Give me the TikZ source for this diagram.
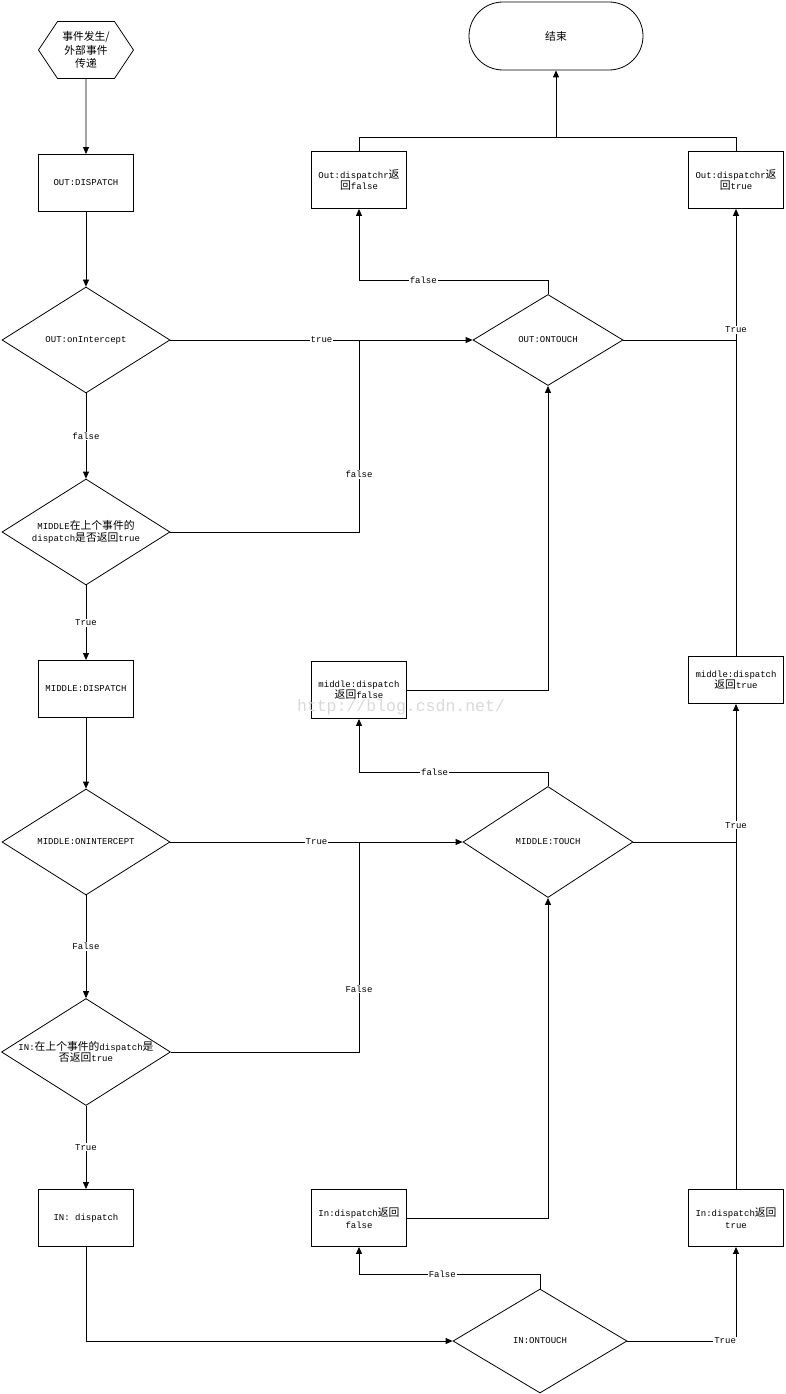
\documentclass[tikz,border=0pt]{standalone}
\usepackage{fontspec}
\setmainfont{Liberation Mono}
\newfontfamily\cjk[Scale=1.2]{Noto Sans CJK SC}
\usetikzlibrary{positioning,arrows.meta,shapes.geometric,shapes.symbols}

\begin{document}
\begin{tikzpicture}[x=1pt,y=-1pt,line width=0.8pt,
    every node/.style={font=\fontsize{9}{11.5}\selectfont, align=center},
    box/.style={draw, line width=0.9pt, minimum width=95pt, minimum height=57pt, inner sep=1pt},
    decision/.style={draw, diamond, aspect=1.58, inner sep=0pt, minimum width=168pt, minimum height=106pt},
    lbl/.style={fill=white, inner sep=1pt},
    arr/.style={-{Triangle[length=7pt,width=6pt]}}]

    \path[use as bounding box, fill=white] (0,0) rectangle (785,1394);

    % left column
    \node[draw, signal, signal to=east and west, signal pointer angle=112.6,
          minimum width=95pt, minimum height=57pt, inner sep=0pt,
          font=\fontsize{9}{13.5}\selectfont] (start) at (86,50) {{\cjk 事件发生/}\\{\cjk 外部事件}\\{\cjk 传递}};
    \node[box] (outDispatch) at (86,183) {OUT:DISPATCH};
    \node[decision] (outIntercept) at (86,340) {OUT:onIntercept};
    \node[decision] (midPrev) at (86,532) {MIDDLE{\cjk 在上个事件的}\\dispatch{\cjk 是否返回}true};
    \node[box] (midDispatch) at (86,689) {MIDDLE:DISPATCH};
    \node[decision] (midIntercept) at (86,842) {MIDDLE:ONINTERCEPT};
    \node[decision] (inPrev) at (86,1052) {IN:{\cjk 在上个事件的}dispatch{\cjk 是}\\{\cjk 否返回}true};
    \node[box] (inDispatch) at (86,1218) {IN: dispatch};

    % middle column
    \node[draw, rounded corners=34pt, minimum width=174pt, minimum height=68pt] (stop) at (556,36) {\cjk 结束};
    \node[box] (outFalse) at (359,180) {Out:dispatchr{\cjk 返}\\{\cjk 回}false};
    \node[decision, minimum width=150pt, minimum height=91pt] (outTouch) at (548,340) {OUT:ONTOUCH};
    \node[box] (midFalse) at (359,690) {middle:dispatch\\{\cjk 返回}false};
    \node[decision, minimum width=170pt, minimum height=111pt] (midTouch) at (548,842) {MIDDLE:TOUCH};
    \node[box] (inFalse) at (359,1218) {In:dispatch{\cjk 返回}\\false};
    \node[decision, minimum width=174pt, minimum height=104pt] (inTouch) at (540,1341) {IN:ONTOUCH};

    % right column
    \node[box] (outTrue) at (736,180) {Out:dispatchr{\cjk 返}\\{\cjk 回}true};
    \node[box, minimum height=47pt] (midTrue) at (736,680) {middle:dispatch\\{\cjk 返回}true};
    \node[box] (inTrue) at (736,1218) {In:dispatch{\cjk 返回}\\true};

    % junctions
    \coordinate (jOut) at (outFalse |- outTouch);
    \coordinate (jOutR) at (outTrue |- outTouch);
    \coordinate (jMid) at (midFalse |- midTouch);
    \coordinate (jMidR) at (midTrue |- midTouch);
    \coordinate (jTop) at (stop.south |- 0,138);

    % main line down the left
    \draw[arr] (start) -- (outDispatch);
    \draw[arr] (outDispatch) -- (outIntercept);
    \draw[arr] (outIntercept) -- node[lbl] {false} (midPrev);
    \draw[arr] (midPrev) -- node[lbl] {True} (midDispatch);
    \draw[arr] (midDispatch) -- (midIntercept);
    \draw[arr] (midIntercept) -- node[lbl] {False} (inPrev);
    \draw[arr] (inPrev) -- node[lbl] {True} (inDispatch);
    \draw[arr] (inDispatch) |- (inTouch);

    % IN level
    \draw[arr] (inTouch.north) -- ++(0,-14) -| node[lbl, pos=0.27] {False} (inFalse);
    \draw[arr] (inTouch) -| node[lbl, pos=0.45] {True} (inTrue);
    \draw[arr] (inFalse) -| (midTouch);
    \draw[arr] (inTrue) -- node[lbl, pos=0.75] {True} (midTrue);

    % MIDDLE level
    \draw[arr] (midIntercept) -- node[lbl] {True} (midTouch);
    \draw (inPrev) -| node[lbl, pos=0.65] {False} (jMid);
    \draw (midTouch) -| (jMidR);
    \draw[arr] (midTouch.north) -- ++(0,-14) -| node[lbl, pos=0.3] {false} (midFalse);
    \draw[arr] (midFalse) -| (outTouch);
    \draw[arr] (midTrue) -- node[lbl, pos=0.73] {True} (outTrue);

    % OUT level
    \draw[arr] (outIntercept) -- node[lbl] {true} (outTouch);
    \draw (midPrev) -| node[lbl, pos=0.65] {false} (jOut);
    \draw (outTouch) -| (jOutR);
    \draw[arr] (outTouch.north) -- ++(0,-14) -| node[lbl, pos=0.33] {false} (outFalse);
    \draw (outFalse.north) -- ++(0,-14) -| (outTrue.north);
    \draw[arr] (jTop) -- (stop);

    \node[text=black!15, font=\fontsize{16.5}{17}\selectfont] (mark) at (401,707) {http://blog.csdn.net/};
\end{tikzpicture}
\end{document}
